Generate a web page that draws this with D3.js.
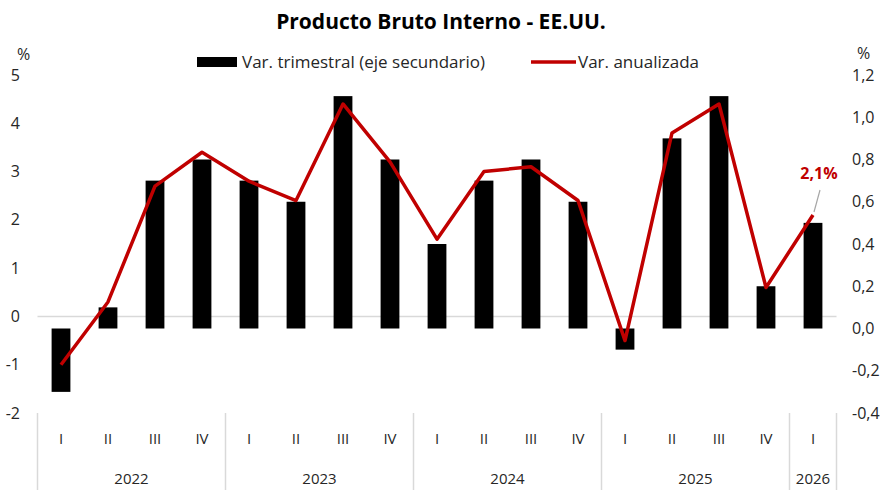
<!DOCTYPE html>
<html>
<head>
<meta charset="utf-8">
<script src="https://cdn.jsdelivr.net/npm/d3@7"></script>
<style>
  body { margin: 0; background: #fff; }
  svg text { font-family: "Open Sans", sans-serif; }
</style>
</head>
<body>
<div id="chart"></div>
<script>
const quarters = ["I","II","III","IV","I","II","III","IV","I","II","III","IV","I","II","III","IV","I"];
const years = ["2022","2022","2022","2022","2023","2023","2023","2023","2024","2024","2024","2024","2025","2025","2025","2025","2026"];
const yearGroups = ["2022","2023","2024","2025","2026"];
// var. trimestral (eje secundario)
const barValues = [-0.3, 0.1, 0.7, 0.8, 0.7, 0.6, 1.1, 0.8, 0.4, 0.7, 0.8, 0.6, -0.1, 0.9, 1.1, 0.2, 0.5];
// var. anualizada
const lineValues = [-1.0, 0.3, 2.7, 3.4, 2.8, 2.4, 4.4, 3.2, 1.6, 3.0, 3.1, 2.4, -0.5, 3.8, 4.4, 0.6, 2.1];
const leftTicks = [-2, -1, 0, 1, 2, 3, 4, 5];
const rightTicks = [-0.4, -0.2, 0, 0.2, 0.4, 0.6, 0.8, 1.0, 1.2];

const width = 886;
const height = 490;
const margin = { left: 37.5, right: 49.5, top: 75, bottom: 77 };
const red = "#c00000";
const grey = "#d9d9d9";

const svg = d3.select("#chart")
    .append("svg")
    .attr("width", width)
    .attr("height", height)
    .attr("viewBox", `0 0 ${width} ${height}`);

const idx = d3.range(quarters.length);

const x = d3.scaleBand()
    .domain(idx)
    .range([margin.left, width - margin.right])
    .padding(0);

const yLeft = d3.scaleLinear()
    .domain([-2, 5])
    .range([height - margin.bottom, margin.top]);

const yRight = d3.scaleLinear()
    .domain([-0.4, 1.2])
    .range([height - margin.bottom, margin.top]);

const barW = x.bandwidth() * 0.4;
// comma decimals, plain hyphen for negatives
const fmtComma = d => d3.format(".1f")(d).replace(".", ",").replace("\u2212", "-");

// title
svg.append("text")
    .attr("x", 441)
    .attr("y", 29)
    .attr("text-anchor", "middle")
    .style("font-size", "21px")
    .style("font-weight", 700)
    .text("Producto Bruto Interno - EE.UU.");

// zero line of left axis
svg.append("line")
    .attr("x1", margin.left)
    .attr("x2", width - margin.right)
    .attr("y1", yLeft(0))
    .attr("y2", yLeft(0))
    .style("stroke", grey)
    .style("stroke-width", 1.5);

// bars
svg.selectAll(".bar")
    .data(idx)
    .join("rect")
        .attr("class", "bar")
        .attr("x", i => x(i) + (x.bandwidth() - barW) / 2)
        .attr("width", barW)
        .attr("y", i => yRight(Math.max(0, barValues[i])))
        .attr("height", i => Math.abs(yRight(barValues[i]) - yRight(0)))
        .style("fill", "#000");

// line
const line = d3.line()
    .x(i => x(i) + x.bandwidth() / 2)
    .y(i => yLeft(lineValues[i]));

svg.append("path")
    .datum(idx)
    .attr("d", line)
    .style("fill", "none")
    .style("stroke", red)
    .style("stroke-width", 3.5)
    .style("stroke-linejoin", "round");

// last value label
const last = idx[idx.length - 1];
const lx = x(last) + x.bandwidth() / 2;
const ly = yLeft(lineValues[last]);
svg.append("line")
    .attr("x1", lx + 1)
    .attr("y1", ly - 3)
    .attr("x2", lx + 7)
    .attr("y2", ly - 25)
    .style("stroke", "#a6a6a6")
    .style("stroke-width", 1.2);
svg.append("text")
    .attr("x", lx + 6)
    .attr("y", ly - 36)
    .attr("text-anchor", "middle")
    .style("font-size", "16px")
    .style("font-weight", 700)
    .style("fill", red)
    .text(fmtComma(lineValues[last]) + "%");

// left axis labels
svg.selectAll(".ytick-left")
    .data(leftTicks)
    .join("text")
        .attr("class", "ytick-left")
        .attr("x", 20)
        .attr("y", d => yLeft(d))
        .attr("dy", "0.35em")
        .attr("text-anchor", "end")
        .style("font-size", "16px")
        .style("fill", "#262626")
        .text(d => d);

// right axis labels
svg.selectAll(".ytick-right")
    .data(rightTicks)
    .join("text")
        .attr("class", "ytick-right")
        .attr("x", 852)
        .attr("y", d => yRight(d))
        .attr("dy", "0.35em")
        .attr("text-anchor", "start")
        .style("font-size", "16px")
        .style("fill", "#262626")
        .text(d => fmtComma(d));

// % units
svg.append("text")
    .attr("x", 17).attr("y", 60)
    .style("font-size", "16px").style("fill", "#262626")
    .text("%");
svg.append("text")
    .attr("x", 857).attr("y", 59)
    .style("font-size", "16px").style("fill", "#262626")
    .text("%");

// x axis: quarter labels
svg.selectAll(".qlabel")
    .data(idx)
    .join("text")
        .attr("class", "qlabel")
        .attr("x", i => x(i) + x.bandwidth() / 2)
        .attr("y", 444)
        .attr("text-anchor", "middle")
        .style("font-size", "15px")
        .style("fill", "#262626")
        .text(i => quarters[i]);

// year groups
const groups = yearGroups.map(yr => {
    const members = idx.filter(i => years[i] === yr);
    return { yr, start: x(members[0]), end: x(members[members.length - 1]) + x.bandwidth() };
});

svg.selectAll(".ylabel")
    .data(groups)
    .join("text")
        .attr("class", "ylabel")
        .attr("x", d => (d.start + d.end) / 2)
        .attr("y", 484)
        .attr("text-anchor", "middle")
        .style("font-size", "15px")
        .style("fill", "#262626")
        .text(d => d.yr);

const seps = [groups[0].start].concat(groups.map(d => d.end));
svg.selectAll(".sep")
    .data(seps)
    .join("line")
        .attr("class", "sep")
        .attr("x1", d => d).attr("x2", d => d)
        .attr("y1", height - margin.bottom)
        .attr("y2", height)
        .style("stroke", grey)
        .style("stroke-width", 1.5);

// legend
const lg = svg.append("g");
lg.append("rect")
    .attr("x", 197).attr("y", 57)
    .attr("width", 40).attr("height", 10)
    .style("fill", "#000");
lg.append("text")
    .attr("x", 242).attr("y", 68)
    .style("font-size", "17px")
    .style("fill", "#262626")
    .text("Var. trimestral (eje secundario)");
lg.append("line")
    .attr("x1", 531).attr("x2", 576)
    .attr("y1", 62).attr("y2", 62)
    .style("stroke", red)
    .style("stroke-width", 3.5);
lg.append("text")
    .attr("x", 578).attr("y", 68)
    .style("font-size", "17px")
    .style("fill", "#262626")
    .text("Var. anualizada");
</script>
</body>
</html>
